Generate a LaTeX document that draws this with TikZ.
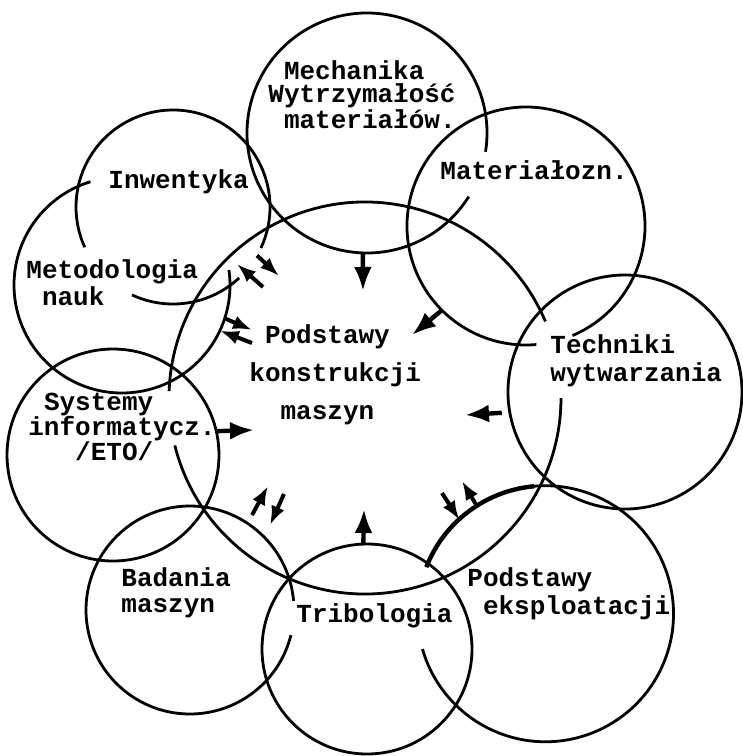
\documentclass[tikz,border=0pt]{standalone}
\usepackage{fontspec}
\setmonofont{Liberation Mono}
\usetikzlibrary{arrows.meta}

\tikzset{
	ring/.style={circle, inner sep=0pt, outer sep=0pt, minimum size=#1},
	txt/.style={font=\ttfamily\bfseries\fontsize{13}{#1}\selectfont, align=left, anchor=west, inner sep=0pt},
	feed/.style={->, line width=2.2pt},
	twin/.style={-{Latex[length=9.5pt,width=7pt]}, line width=2pt},
}

\begin{document}
\begin{tikzpicture}[x=0.5pt, y=-0.5pt, >={Latex[length=12pt,width=9pt]}, line width=1.4pt]
	\useasboundingbox (0,0) rectangle (743,756);

	% Circles {pkm, mech, mat, tech, eksp, trib, bad, sys, met, inw}
	\node [ring=196pt]	(pkm)	at (365,398)	{};
	\node [ring=120pt]	(mech)	at (367,133)	{};
	\node [ring=119pt]	(mat)	at (526,226)	{};
	\node [ring=117pt]	(tech)	at (625,392)	{};
	\node [ring=128pt]	(eksp)	at (545,615)	{};
	\node [ring=105pt]	(trib)	at (367,649)	{};
	\node [ring=104pt]	(bad)	at (190,610)	{};
	\node [ring=106pt]	(sys)	at (113,455)	{};
	\node [ring=108pt]	(met)	at (122,285)	{};
	\node [ring=97pt]	(inw)	at (173,207)	{};

	% Outlines, left open where the words run through
	\draw (pkm.23) arc [start angle=23, end angle=178, radius=98pt];
	\draw (pkm.194) arc [start angle=194, end angle=360, radius=98pt];
	\draw (mech.-9) arc [start angle=-9, end angle=328, radius=60pt];
	\draw (mat.-67) arc [start angle=-67, end angle=275, radius=59.5pt];
	\draw (tech.center) circle [radius=58.5pt];
	\draw (eksp.158.6) arc [start angle=158.6, end angle=-164, radius=64pt];
	\draw [line width=2.2pt] (eksp.158.6) arc [start angle=158.6, end angle=95, radius=64pt];
	\draw (trib.center) circle [radius=52.5pt];
	\draw (bad.5) arc [start angle=5, end angle=346, radius=52pt];
	\draw (sys.center) circle [radius=53pt];
	\draw (met.8) arc [start angle=8, end angle=-253, radius=54pt];
	\draw (inw.-25) arc [start angle=-25, end angle=204.5, radius=48.5pt];
	\draw (inw.245) arc [start angle=245, end angle=313, radius=48.5pt];

	% Words
	\node [txt=11.5pt]	(mechtxt)	at (267,95)		{~Mechanika\\Wytrzymałość\\~materiałów.};
	\node [txt=14pt]	(mattxt)	at (439,170)	{Materiałozn.};
	\node [txt=14pt]	(inwtxt)	at (107,182)	{Inwentyka};
	\node [txt=13.5pt]	(mettxt)	at (25,283)		{Metodologia\\~nauk};
	\node [txt=19pt]	(pkmtxt)	at (248,375)	{~Podstawy\\konstrukcji\\~~maszyn};
	\node [txt=14pt]	(techtxt)	at (549,361)	{Techniki\\wytwarzania};
	\node [txt=12.5pt]	(systxt)	at (27,427)		{~Systemy\\informatycz.\\~~~/ETO/};
	\node [txt=13pt]	(badtxt)	at (120,593)	{Badania\\maszyn};
	\node [txt=14pt]	(tribtxt)	at (295,616)	{Tribologia};
	\node [txt=14pt]	(eksptxt)	at (466,594)	{Podstawy\\~eksploatacji};

	% Free ends of the arrows
	\coordinate (m1) at (363,291);
	\coordinate (t1) at (412,335);
	\coordinate (w1) at (465,415);
	\coordinate (e1) at (442,493);
	\coordinate (e2) at (462,481);
	\coordinate (r1) at (364,509);
	\coordinate (b1) at (252,515);
	\coordinate (b2) at (268,486);
	\coordinate (b3) at (284,494);
	\coordinate (b4) at (270,525);
	\coordinate (s1) at (254,430);
	\coordinate (n1) at (252,330);
	\coordinate (n2) at (252,343);
	\coordinate (i1) at (279,276);
	\coordinate (i2) at (263,287);
	\coordinate (i3) at (237,264);

	% Arrows into the middle
	\path [feed]	(mech.-92)	edge	(m1);
	\path [feed]	(mat.-135)	edge	(t1);
	\path [feed]	(tech.190)	edge	[shorten <=4pt]	(w1);
	\path [feed]	(trib.92)	edge	(r1);
	\path [feed]	(sys.13)	edge	(s1);

	% Arrow pairs both ways
	\path [twin]	(e1)		edge	(eksp.132);
	\path [twin]	(eksp.122)	edge	(e2);
	\path [twin]	(b1)		edge	(b2);
	\path [twin]	(b3)		edge	(b4);
	\path [twin]	(met.-18)	edge	(n1);
	\path [twin]	(n2)		edge	(met.-25);
	\path [twin]	(inw.-30)	edge	(i1);
	\path [twin]	(i2)		edge	(i3);

\end{tikzpicture}
\end{document}
